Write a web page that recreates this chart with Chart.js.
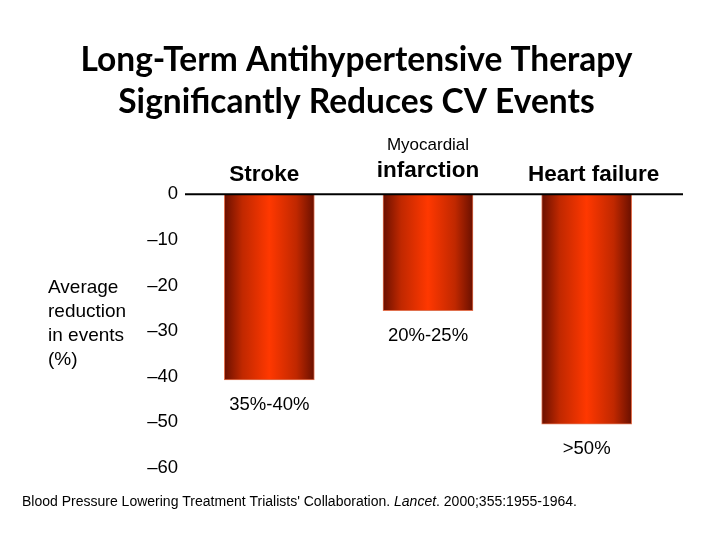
<!DOCTYPE html>
<html>
<head>
<meta charset="utf-8">
<script src="https://cdn.jsdelivr.net/npm/chart.js@4"></script>
<style>
  html, body { margin: 0; padding: 0; background: #ffffff; }
  #wrap { width: 720px; height: 540px; position: relative; }
</style>
</head>
<body>
<div id="wrap"><canvas id="c" width="720" height="540"></canvas></div>
<script>
// ---- data ----
const categories = ['Stroke', 'Myocardial infarction', 'Heart failure'];
const categoryLabelLines = [['Stroke'], ['Myocardial', 'infarction'], ['Heart failure']];
const reductionValues = [-40.7, -25.5, -50.4];
const valueLabels = ['35%-40%', '20%-25%', '>50%'];
const yTickValues = [0, -10, -20, -30, -40, -50, -60];
const yTickLabels = ['0', '\u201310', '\u201320', '\u201330', '\u201340', '\u201350', '\u201360'];
const titleLines = ['Long-Term Antihypertensive Therapy', 'Significantly Reduces CV Events'];
const yAxisTitleLines = ['Average', 'reduction', 'in events', '(%)'];
const sourceParts = [
  { text: "Blood Pressure Lowering Treatment Trialists' Collaboration. ", italic: false },
  { text: 'Lancet', italic: true },
  { text: '. 2000;355:1955-1964.', italic: false }
];

// ---- styling ----
const SANS = '"Liberation Sans", Arial, sans-serif';
const BAR_W = 90;

function barGradient(ctx) {
  const chart = ctx.chart;
  const xs = chart.scales && chart.scales.x;
  if (ctx.type !== 'data' || !xs || xs.width === undefined) return '#ff3300';
  const cx = xs.getPixelForValue(ctx.dataIndex);
  if (!isFinite(cx)) return '#ff3300';
  const g = chart.ctx.createLinearGradient(cx - BAR_W / 2, 0, cx + BAR_W / 2, 0);
  g.addColorStop(0, '#6a1000');
  g.addColorStop(0.2, '#c02800');
  g.addColorStop(0.5, '#ff3800');
  g.addColorStop(0.8, '#c02800');
  g.addColorStop(1, '#6a1000');
  return g;
}

const annotations = {
  id: 'annotations',
  afterDatasetsDraw(chart) {
    const c = chart.ctx;
    const ys = chart.scales.y;
    const meta = chart.getDatasetMeta(0);
    c.save();
    // zero line
    const y0 = ys.getPixelForValue(0);
    c.strokeStyle = '#000';
    c.lineWidth = 2;
    c.beginPath();
    c.moveTo(185, y0);
    c.lineTo(683, y0);
    c.stroke();

    c.fillStyle = '#000';
    c.textBaseline = 'middle';
    c.textAlign = 'center';
    // category labels above the bars
    const labelDx = [-5, 0, 7];
    meta.data.forEach((bar, i) => {
      const lines = categoryLabelLines[i];
      const x = bar.x + labelDx[i];
      if (lines.length === 2) {
        c.font = '17px ' + SANS;
        c.fillText(lines[0], x, y0 - 49);
        c.font = 'bold 22.5px ' + SANS;
        c.fillText(lines[1], x, y0 - 23);
      } else {
        c.font = 'bold 22.5px ' + SANS;
        c.fillText(lines[0], x, y0 - 19);
      }
    });
    // value labels under bars
    c.font = '18.5px ' + SANS;
    meta.data.forEach((bar, i) => {
      c.fillText(valueLabels[i], bar.x, bar.y + 25);
    });
    // y axis title
    c.textAlign = 'left';
    c.font = '19px ' + SANS;
    yAxisTitleLines.forEach((t, i) => c.fillText(t, 48, 288 + i * 24));
    // source
    let x = 22;
    sourceParts.forEach(p => {
      c.font = (p.italic ? 'italic ' : '') + '14px ' + SANS;
      c.fillText(p.text, x, 502);
      x += c.measureText(p.text).width;
    });
    c.restore();
  }
};

new Chart(document.getElementById('c'), {
  type: 'bar',
  data: {
    labels: categories,
    datasets: [{
      data: reductionValues,
      backgroundColor: barGradient,
      borderColor: '#e0714f',
      borderWidth: 1,
      borderSkipped: false,
      barThickness: BAR_W
    }]
  },
  options: {
    responsive: false,
    animation: false,
    devicePixelRatio: 1,
    layout: { padding: { left: 47, right: 54, top: 0, bottom: 72 } },
    plugins: {
      legend: { display: false },
      tooltip: { enabled: false },
      title: {
        display: true,
        text: titleLines,
        color: '#000',
        font: { family: 'Lato, "Open Sans", sans-serif', size: 33.5, weight: 'bold', lineHeight: 1.25 },
        padding: { top: 39, bottom: 71.5 }
      }
    },
    scales: {
      x: {
        display: false,
        offset: true
      },
      y: {
        min: -60,
        max: 0,
        afterFit(scale) { scale.width = 143; },
        grid: { display: false, drawTicks: false },
        border: { display: false },
        ticks: {
          stepSize: 10,
          padding: 12,
          color: '#000',
          font: { family: SANS, size: 18.5 },
          callback(value) {
            const i = yTickValues.indexOf(value);
            return i >= 0 ? yTickLabels[i] : '';
          }
        }
      }
    }
  },
  plugins: [annotations]
});
</script>
</body>
</html>
